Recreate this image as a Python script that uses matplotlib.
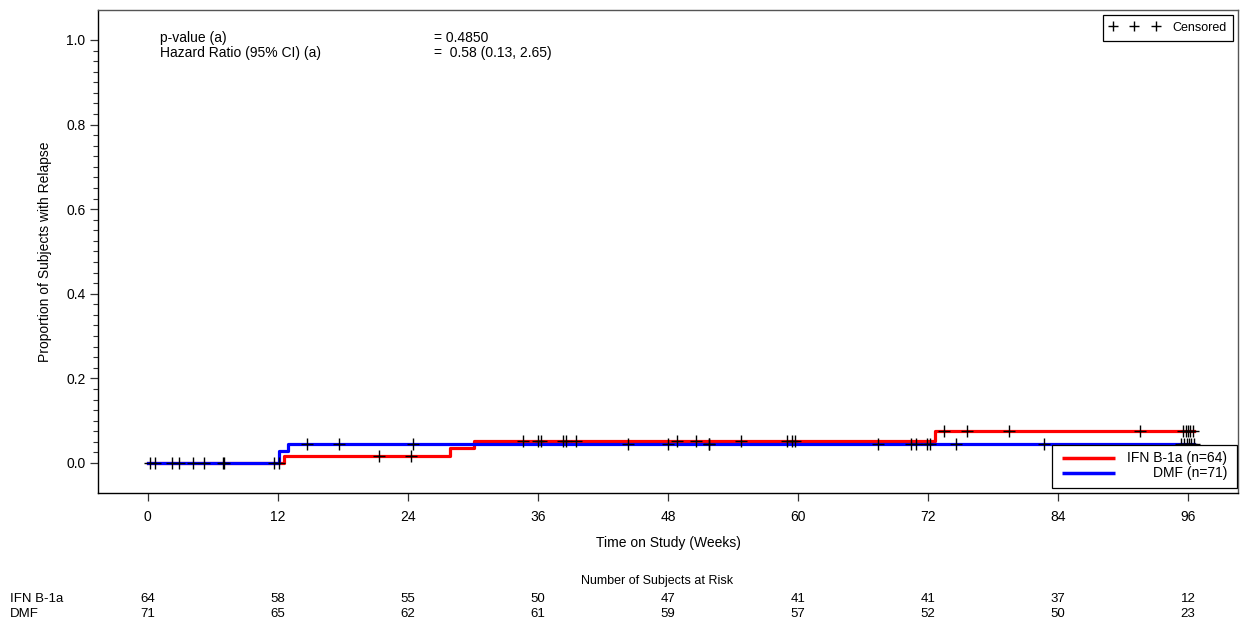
import numpy as np
import matplotlib
matplotlib.use("Agg")
import matplotlib.pyplot as plt
from matplotlib.lines import Line2D
from matplotlib.patches import Rectangle
from matplotlib.transforms import blended_transform_factory

plt.rcParams['font.family'] = ['Liberation Sans', 'DejaVu Sans']

# Kaplan-Meier step curves (cumulative proportion with relapse)
ifn_step_weeks = [0, 12.6, 27.9, 30.1, 72.65]
ifn_step_props = [0.0, 0.017, 0.035, 0.053, 0.076]
dmf_step_weeks = [0, 12.1, 12.9]
dmf_step_props = [0.0, 0.028, 0.044]
end_week = 96.5

# censoring times (weeks)
ifn_censored = [0.7, 2.9, 5.2, 7.0, 12.1, 21.3, 24.3, 34.6, 36.0, 36.3, 38.3,
                38.6, 39.5, 48.8, 50.6, 54.7, 59.0, 59.4, 59.7, 73.5, 75.6,
                79.5, 91.6, 95.5, 95.8, 96.0, 96.2, 96.4]
dmf_censored = [0.2, 2.2, 4.2, 6.9, 11.6, 14.7, 17.6, 24.5, 44.3, 48.0, 51.8,
                51.8, 67.4, 70.4, 70.9, 71.9, 72.2, 74.6, 82.7, 95.3, 95.6,
                95.9, 96.1, 96.3, 96.5]

risk_weeks = [0, 12, 24, 36, 48, 60, 72, 84, 96]
ifn_at_risk = [64, 58, 55, 50, 47, 41, 41, 37, 12]
dmf_at_risk = [71, 65, 62, 61, 59, 57, 52, 50, 23]

groups = [
    ("IFN B-1a (n=64)", "IFN B-1a", ifn_step_weeks, ifn_step_props, ifn_censored, ifn_at_risk, "#ff0000"),
    ("DMF (n=71)", "DMF", dmf_step_weeks, dmf_step_props, dmf_censored, dmf_at_risk, "#0000ff"),
]


def level_at(weeks, props, t):
    i = np.searchsorted(weeks, t, side="right") - 1
    return np.asarray(props)[i]


fig = plt.figure(figsize=(12.42, 6.23), dpi=100)
ax = fig.add_axes([0.0789, 0.2087, 0.9179, 0.7753])

for label, short, wk, pr, cens, risk, color in groups:
    xs = list(wk) + [end_week]
    ys = list(pr) + [pr[-1]]
    ax.step(xs, ys, where="post", color=color, lw=2.3)

for label, short, wk, pr, cens, risk, color in groups:
    cy = level_at(wk, pr, np.array(cens))
    ax.plot(cens, cy, ls="none", marker="+", ms=9, mew=1.0, color="black", zorder=5)

ax.set_xlim(-4.6, 100.6)
ax.set_ylim(-0.071, 1.071)
ax.set_xticks(risk_weeks)
ax.set_yticks(np.arange(0, 1.01, 0.2))
ax.set_yticks(np.arange(0, 1.01, 0.025), minor=True)
ax.yaxis.set_major_formatter(plt.FuncFormatter(lambda v, p: f"{v:.1f}"))
ax.tick_params(axis="both", labelsize=10, color="#333333", length=6, width=0.9, pad=6)
ax.tick_params(axis="y", pad=3)
ax.tick_params(axis="y", which="minor", length=3.5, width=0.8, color="#333333")
ax.tick_params(axis="x", which="minor", length=0)
for side in ["top", "right"]:
    ax.spines[side].set_color("#555555")
for side in ["left", "bottom"]:
    ax.spines[side].set_color("black")
for s in ax.spines.values():
    s.set_linewidth(1.0)

ax.set_xlabel("Time on Study (Weeks)", fontsize=10, labelpad=9)
ax.set_ylabel("Proportion of Subjects with Relapse", fontsize=10, labelpad=10)

# test statistics
ax.text(0.054, 0.957, "p-value (a)\nHazard Ratio (95% CI) (a)", transform=ax.transAxes,
        fontsize=10, va="top", ha="left", linespacing=1.12)
ax.text(0.295, 0.957, "= 0.4850\n=  0.58 (0.13, 2.65)", transform=ax.transAxes,
        fontsize=10, va="top", ha="left", linespacing=1.12)

# censored legend
cens_handle = Line2D([], [], ls="none", marker="+", ms=7, mew=1.0, color="black")
leg1 = ax.legend([cens_handle], ["Censored"], loc="upper right", numpoints=3,
                 handlelength=4.0, fontsize=9, frameon=True, fancybox=False,
                 edgecolor="black", borderaxespad=0.4, handletextpad=1.0,
                 borderpad=0.55, framealpha=1)
leg1.get_frame().set_linewidth(0.9)

# group legend with right-aligned labels
ax.add_patch(Rectangle((0.8368, 0.0104), 0.1623, 0.089, transform=ax.transAxes,
                       facecolor="white", edgecolor="black", lw=0.9, zorder=6))
for (label, short, wk, pr, cens, risk, color), ly in zip(groups, [0.0725, 0.0414]):
    ax.plot([0.8456, 0.8921], [ly, ly], transform=ax.transAxes, color=color,
            lw=2.5, zorder=7, solid_capstyle="butt")
    ax.text(0.9904, ly, label, transform=ax.transAxes, fontsize=10,
            ha="right", va="center", zorder=7)

# number at risk table
tr = blended_transform_factory(ax.transData, fig.transFigure)
fig.text(0.529, 0.0674, "Number of Subjects at Risk", fontsize=9, ha="center", va="center")
row_y = [0.0385, 0.0145]
for (label, short, wk, pr, cens, risk, color), y in zip(groups, row_y):
    fig.text(0.008, y, short, fontsize=9.5, ha="left", va="center")
    for w, n in zip(risk_weeks, risk):
        ax.text(w, y, str(n), transform=tr, fontsize=9.5, ha="center", va="center")

fig.savefig("out.png", dpi=100)
